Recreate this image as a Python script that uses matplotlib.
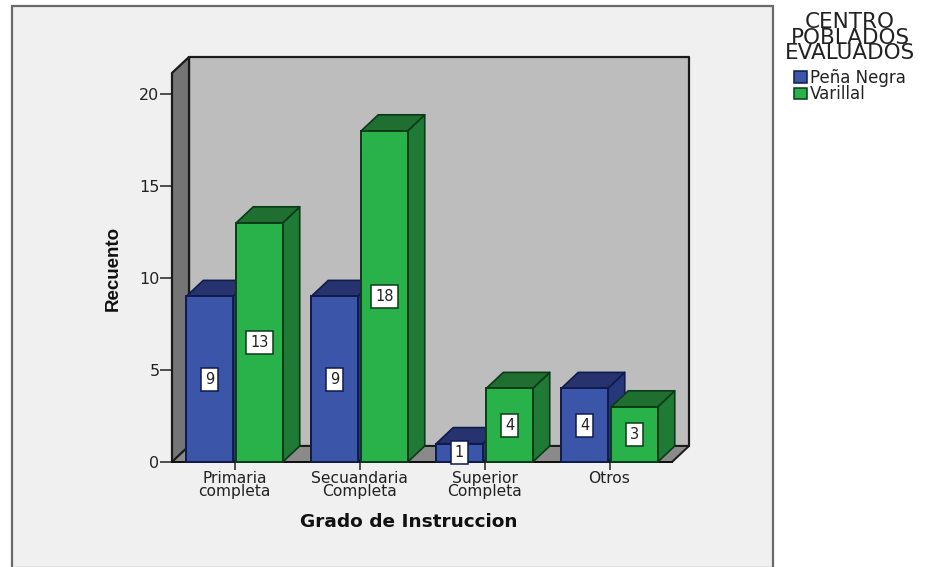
import matplotlib
matplotlib.use("Agg")
import matplotlib.pyplot as plt
from matplotlib.patches import Polygon, Rectangle, Patch
from matplotlib.font_manager import FontProperties

categories = ["Primaria\ncompleta", "Secuandaria\nCompleta", "Superior\nCompleta", "Otros"]
pena_negra = [9, 9, 1, 4]
varillal = [13, 18, 4, 3]
series_names = ["Peña Negra", "Varillal"]
legend_title = "CENTRO\nPOBLADOS\nEVALUADOS"
yticks = [0, 5, 10, 15, 20]

W, H = 925, 567
fig = plt.figure(figsize=(W / 100, H / 100), dpi=100, facecolor="white")
FONT = "DejaVu Sans"
TXT = "#222222"

# outer frame
fig.add_artist(Rectangle((11.5 / W, 1 - 568 / H), 761 / W, 562.5 / H, transform=fig.transFigure,
                         facecolor="#f0f0f0", edgecolor="#6a6a6a", linewidth=1.6, zorder=-5))

L, R, B, T = 172, 672, 462, 73
ax = fig.add_axes([L / W, 1 - B / H, (R - L) / W, (B - T) / H])
ax.patch.set_visible(False)
ax.set_xlim(-0.5, 3.5)
ax.set_ylim(0, (B - T) / 18.4)
for s in ax.spines.values():
    s.set_visible(False)

DX = 17 / 125
DY = 16 / 18.4
ymax = ax.get_ylim()[1]
EDGE = "#1a1a1a"


def poly(pts, fc, ec=EDGE, lw=1.3, z=1):
    ax.add_patch(Polygon(pts, closed=True, facecolor=fc, edgecolor=ec, linewidth=lw,
                         zorder=z, clip_on=False, joinstyle="round"))


# walls
poly([(-0.5 + DX, DY), (3.5 + DX, DY), (3.5 + DX, ymax + DY), (-0.5 + DX, ymax + DY)], "#bdbdbd", lw=1.6)
poly([(-0.5, 0), (-0.5 + DX, DY), (-0.5 + DX, ymax + DY), (-0.5, ymax)], "#757575", lw=1.6)
poly([(-0.5, 0), (3.5, 0), (3.5 + DX, DY), (-0.5 + DX, DY)], "#8a8a8a", lw=1.4)

BW = 0.372
OFF = 0.2
styles = [
    dict(front="#3b55a8", side="#27387a", top="#27336f", edge="#0f1a4d"),
    dict(front="#29b24a", side="#1f7a35", top="#1f7030", edge="#0b3a18"),
]
z = 3
for i in range(len(categories)):
    for j, values in enumerate([pena_negra, varillal]):
        v = values[i]
        st = styles[j]
        x = i + (-OFF if j == 0 else OFF)
        x0, x1 = x - BW / 2, x + BW / 2
        poly([(x1, 0), (x1 + DX, DY), (x1 + DX, v + DY), (x1, v)], st["side"], st["edge"], 1.2, z)
        poly([(x0, v), (x1, v), (x1 + DX, v + DY), (x0 + DX, v + DY)], st["top"], st["edge"], 1.2, z)
        ax.bar(x, v, width=BW, color=st["front"], edgecolor=st["edge"], linewidth=1.4, zorder=z + 0.5,
               clip_on=False)
        ax.text(x, v / 2, str(v), ha="center", va="center", fontsize=10.5, family=FONT, color=TXT,
                zorder=30,
                bbox=dict(boxstyle="square,pad=0.28", facecolor="white", edgecolor=st["edge"], linewidth=1.1))
        z += 1

# baseline
ax.plot([-0.5, 3.5], [0, 0], color="#111111", lw=1.4, zorder=2, clip_on=False)

ax.set_xticks(range(len(categories)))
ax.set_xticklabels(categories, fontsize=11.2, family=FONT, color=TXT, linespacing=0.86)
ax.set_yticks(yticks)
ax.set_yticklabels([str(t) for t in yticks], fontsize=11.5, family=FONT, color=TXT)
ax.tick_params(axis="x", length=6, width=1.1, color="#222222", pad=0.5)
ax.tick_params(axis="y", length=8.5, width=1.1, color="#222222", pad=0.5)

fig.text(113 / W, 1 - 268 / H, "Recuento", rotation=90, ha="center", va="center",
         fontsize=13.5, fontweight="bold", family="Liberation Sans", color="#111111")
fig.text(408.5 / W, 1 - 522 / H, "Grado de Instruccion", ha="center", va="center",
         fontsize=13.3, fontweight="bold", family="DejaVu Sans", color="#111111")

handles = [Patch(facecolor=styles[k]["front"], edgecolor=styles[k]["edge"], linewidth=1.1, label=series_names[k])
           for k in range(2)]
leg = fig.legend(handles=handles, title=legend_title, loc="upper left", bbox_to_anchor=(785 / W, 1 - 12 / H),
                 bbox_transform=fig.transFigure, frameon=False, prop=dict(family=FONT, size=12),
                 title_fontproperties=FontProperties(family=FONT, size=15.5),
                 alignment="center", handlelength=0.78, handleheight=0.7, handletextpad=0.15, labelspacing=-0.08,
                 borderpad=0, borderaxespad=0, labelcolor=TXT)
leg.get_title().set_color(TXT)
leg.get_title().set_linespacing(0.72)
leg.get_title().set_multialignment("center")
leg._legend_box.sep = 4

fig.savefig("out.png", dpi=100, facecolor="white")
